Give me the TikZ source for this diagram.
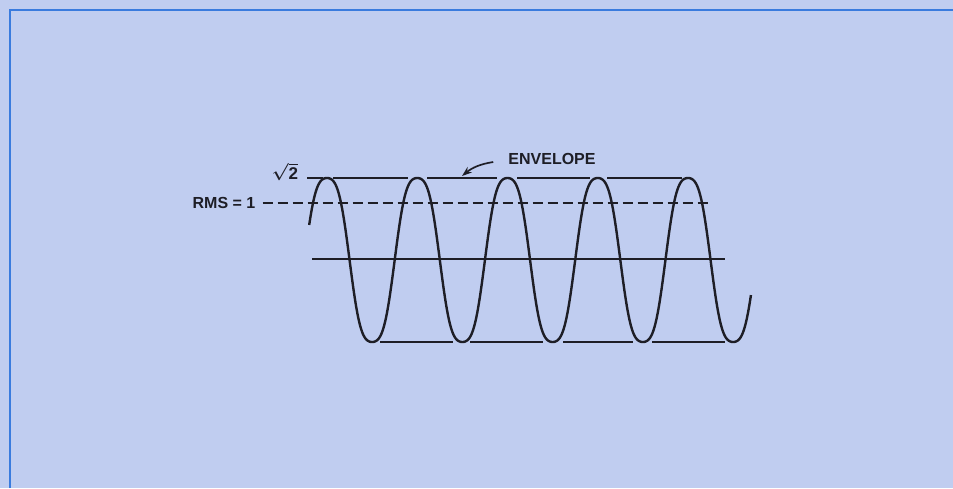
\documentclass[tikz,border=0pt]{standalone}
\usepackage{fontspec}
\setmainfont{Liberation Sans}
\usetikzlibrary{arrows.meta}
\definecolor{paperblue}{HTML}{C0CDF0}
\definecolor{frameblue}{HTML}{3A7BDE}
\definecolor{inkgrey}{HTML}{1E1E26}

\begin{document}
\begin{tikzpicture}[x=1pt, y=-1pt,
  lbl/.style={font=\bfseries\fontsize{16}{19}\selectfont, text=inkgrey, inner sep=1pt},
  ref/.style={line width=1.4pt, draw=inkgrey},
  wave/.style={line width=2.4pt, draw=inkgrey, line join=round},
  arr/.style={-{Stealth[length=10pt,width=7pt]}, line width=1.7pt, draw=inkgrey}]

\fill[paperblue] (0,0) rectangle (953,488);
\useasboundingbox (0,0) rectangle (953,488);
\draw[frameblue, line width=2pt] (10,488) -- (10,10) -- (953,10);

\node[lbl, font=\bfseries\boldmath\fontsize{17}{20}\selectfont] at (285,172) (sqrttwo) {$\sqrt{\mbox{\bfseries 2}}$};
\node[lbl] at (224,203) (rms) {RMS = 1};
\node[lbl] at (552,159) (env) {ENVELOPE};
\coordinate (rmsend) at (712,203);
\coordinate (envtip) at (462,176);

% envelope and axis lines
\foreach \a/\b in {307/323, 333/408, 427/497, 517/590, 607/682}
  \draw[ref] (\a,178) -- (\b,178);
\foreach \a/\b in {380/453, 470/543, 563/633, 652/725}
  \draw[ref] (\a,342) -- (\b,342);
\draw[ref] (312,259) -- (725,259);
\draw[ref, dash pattern=on 10pt off 5pt] (rms.east) ++(6pt,0) -- (rmsend);

% the wave
\draw[wave] plot[domain=19:1781, samples=900, variable=\t]
  ({327+(\t-90)*0.2507}, {260-82*sin(\t)*(1+0.35*cos(\t)*cos(\t))});

\draw[arr] ([xshift=-14pt,yshift=-3pt]env.west) to[bend right=15] (envtip);
\end{tikzpicture}
\end{document}
